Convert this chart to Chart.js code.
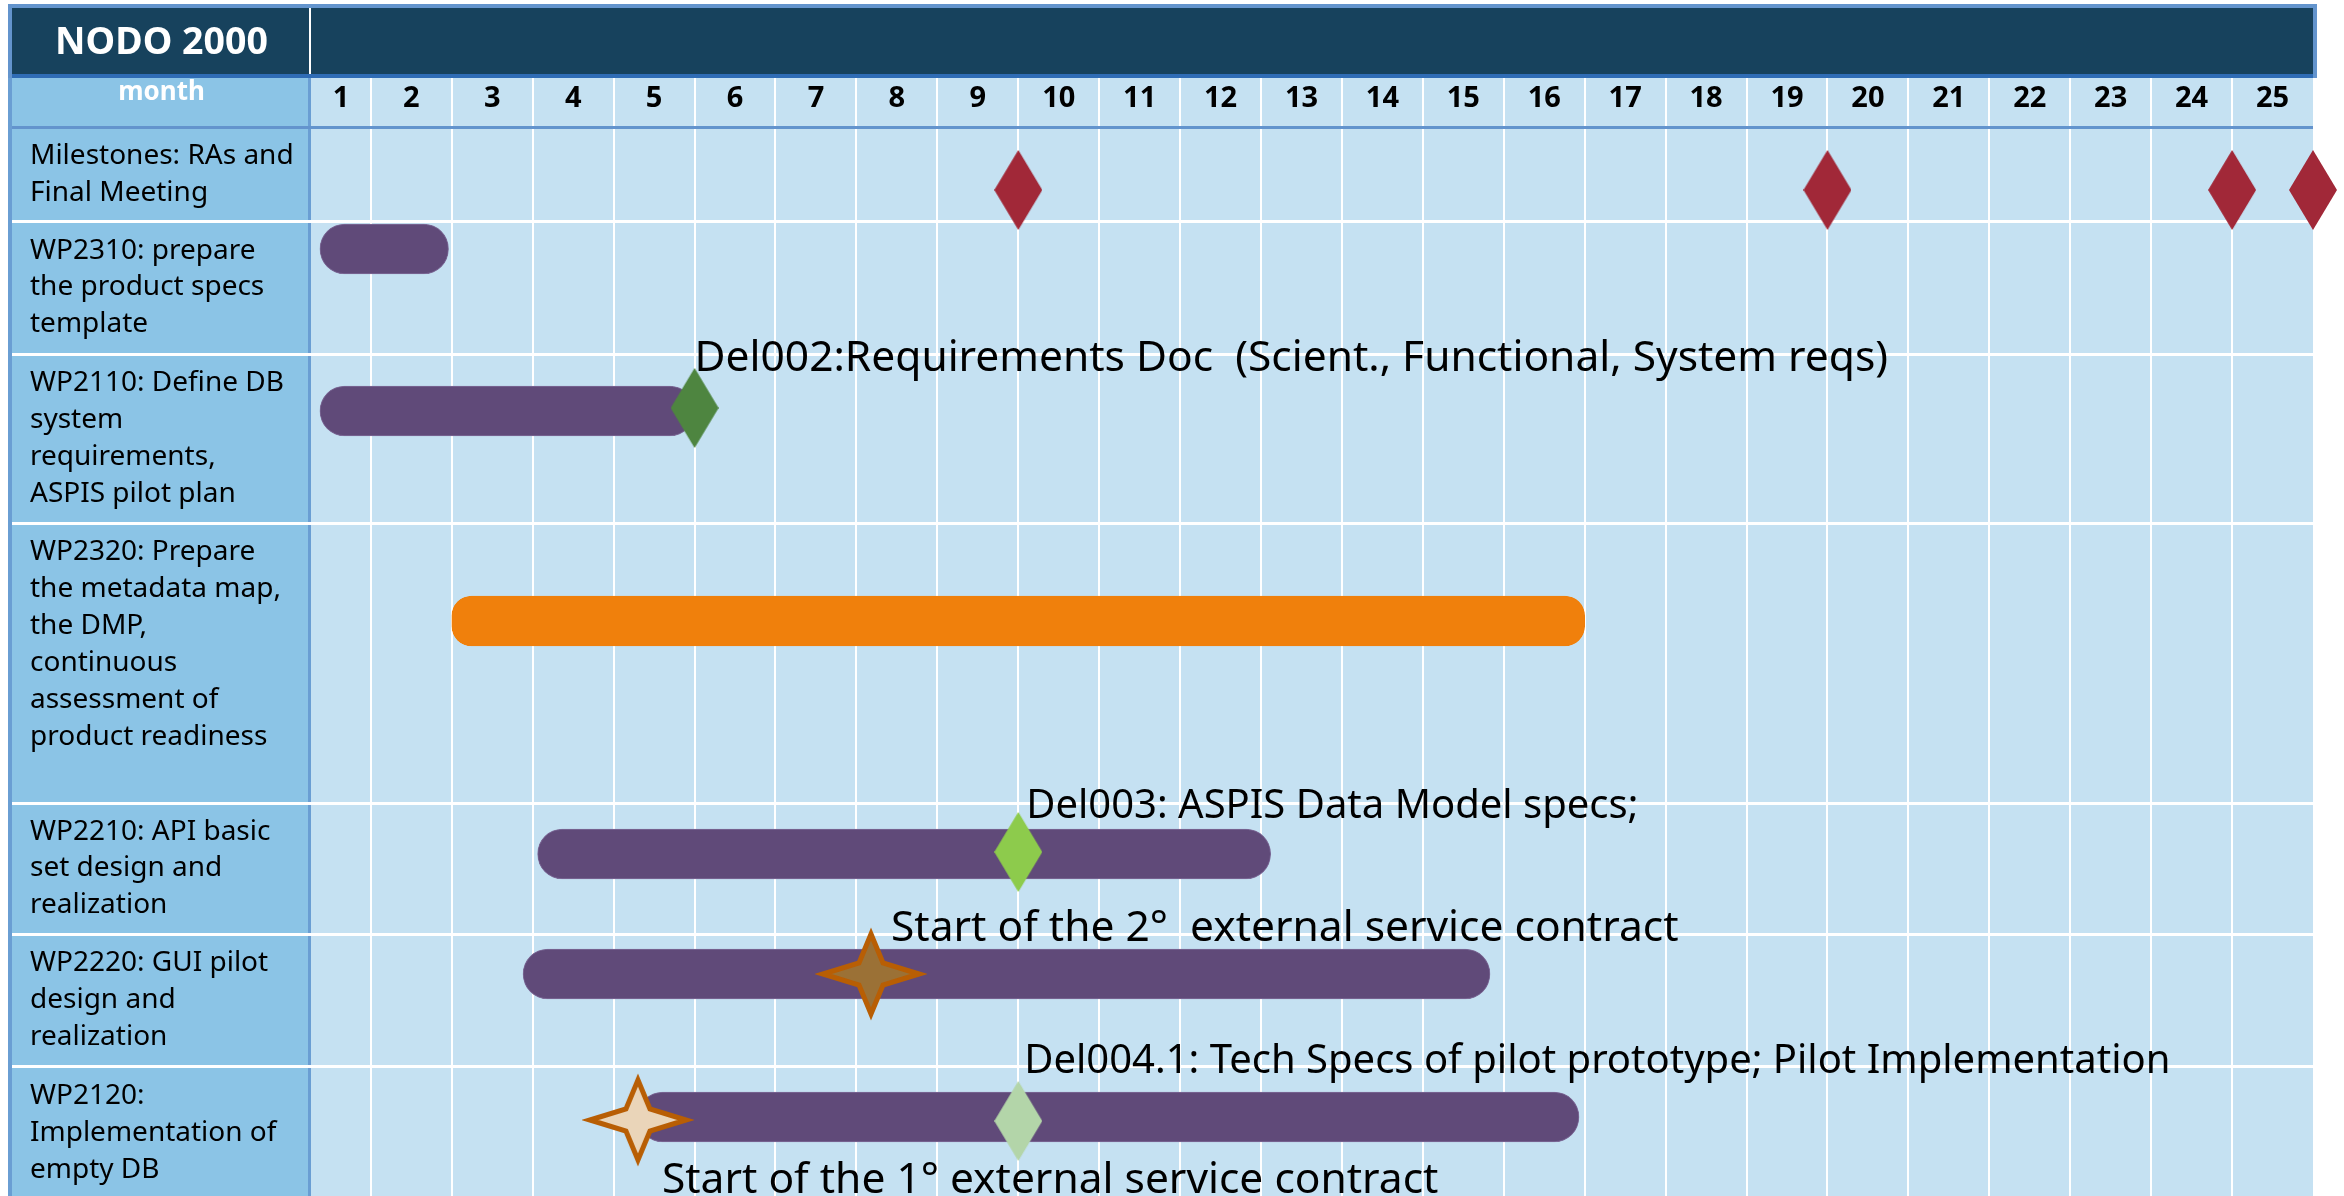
<!DOCTYPE html>
<html>
<head>
<meta charset="utf-8">
<script src="https://cdn.jsdelivr.net/npm/chart.js@4.4.1/dist/chart.umd.min.js"></script>
<style>
  html, body { margin: 0; padding: 0; background: #fff; }
  #wrap { width: 2344px; height: 1196px; }
</style>
</head>
<body>
<div id="wrap"><canvas id="gantt" width="2344" height="1196"></canvas></div>
<script>
// Data
const title = 'NODO 2000';
const monthHeader = 'month';
const months = ['1','2','3','4','5','6','7','8','9','10','11','12','13','14','15','16','17','18','19','20','21','22','23','24','25'];
const tasks = [
    ['Milestones: RAs and', 'Final Meeting'],
    ['WP2310: prepare', 'the product specs', 'template'],
    ['WP2110: Define DB', 'system', 'requirements,', 'ASPIS pilot plan'],
    ['WP2320: Prepare', 'the metadata map,', 'the DMP,', 'continuous', 'assessment of', 'product readiness', ''],
    ['WP2210: API basic', 'set design and', 'realization'],
    ['WP2220: GUI pilot', 'design and', 'realization'],
    ['WP2120:', 'Implementation of', 'empty DB']
];
const barStart = [0.37, 0.37, 2.0, 3.06, 2.88, 4.3];
const barEnd   = [1.96, 5.0, 16.0, 12.12, 14.83, 15.93];
const milestoneMonths = [9, 19, 24, 25];
const deliverables = [
    'Del002:Requirements Doc  (Scient., Functional, System reqs)',
    'Del003: ASPIS Data Model specs;',
    'Del004.1: Tech Specs of pilot prototype; Pilot Implementation'
];
const deliverableMonths = [5, 9, 9];
const contracts = [
    'Start of the 2°  external service contract',
    'Start of the 1° external service contract'
];
const contractMonths = [7.18, 4.3];

// Layout (y units = px below the month row)
const X_MIN = 0.26, X_MAX = 25, Y_MAX = 1067;
const ROW_EDGES = [0, 92, 225, 394, 674, 805, 937, 1071];
const BAR_Y = [120, 282, 492, 725, 845, 988];
const MILESTONE_Y = 61;
const DELIV_Y = [279, 723, 992];
const DELIV_TEXT = [{ dx: 0, y: 242, size: 42.5 }, { dx: 8, y: 689, size: 40 }, { dx: 6, y: 944, size: 40 }];
const CONTRACT_Y = [845, 991];
const CONTRACT_TEXT = [{ dx: 20, y: 812, size: 42.5 }, { dx: 24, y: 1064, size: 42.5 }];

// Colours
const C = {
    band: '#17425D', bandBorder: '#6394CD', bandLine: '#2F6CB5',
    panel: '#8BC4E6', panelEdge: '#6A9ED3', plot: '#C5E1F2',
    purple: '#604A79', orange: '#F0800C',
    red: '#A12838', del: ['#4E8540', '#8DCB4C', '#B3D5A9'],
    starStroke: '#B85E04', starFill: ['#9B7136', '#EAD5B9']
};
const FONT = '"Noto Sans", "Open Sans", sans-serif';

function shapeCanvas(w, h, draw) {
    const c = document.createElement('canvas');
    c.width = w; c.height = h;
    draw(c.getContext('2d'), w, h);
    return c;
}

const diamond = color => shapeCanvas(48, 80, (g, w, h) => {
    g.fillStyle = color;
    g.beginPath();
    g.moveTo(w / 2, 0); g.lineTo(w, h / 2); g.lineTo(w / 2, h); g.lineTo(0, h / 2);
    g.closePath();
    g.fill();
});

const star = fill => shapeCanvas(112, 96, (g, w, h) => {
    const cx = w / 2, cy = h / 2, rx = 48, ry = 40, ix = 12, iy = 11;
    g.beginPath();
    g.moveTo(cx, cy - ry);
    g.lineTo(cx + ix, cy - iy); g.lineTo(cx + rx, cy);
    g.lineTo(cx + ix, cy + iy); g.lineTo(cx, cy + ry);
    g.lineTo(cx - ix, cy + iy); g.lineTo(cx - rx, cy);
    g.lineTo(cx - ix, cy - iy);
    g.closePath();
    g.fillStyle = fill;
    g.fill();
    g.lineWidth = 5;
    g.lineJoin = 'miter';
    g.miterLimit = 10;
    g.strokeStyle = C.starStroke;
    g.stroke();
});

const ganttFrame = {
    id: 'ganttFrame',
    beforeDraw(chart) {
        const { ctx, chartArea: a, scales: { x, y } } = chart;
        const L = 12, R = a.right, bottom = chart.height;
        ctx.save();
        // title band
        ctx.fillStyle = C.bandBorder;
        ctx.fillRect(8, 4, R - 8 + 4, 74);
        ctx.fillStyle = C.band;
        ctx.fillRect(L, 8, R - L, 67);
        ctx.fillStyle = C.bandLine;
        ctx.fillRect(L, 74, R - L, 4);
        ctx.fillStyle = '#fff';
        ctx.fillRect(a.left - 2, 8, 2, 66);
        // month row + plot
        ctx.fillStyle = C.plot;
        ctx.fillRect(a.left, 78, R - a.left, bottom - 78);
        ctx.fillStyle = C.panel;
        ctx.fillRect(L, 78, a.left - L, bottom - 78);
        ctx.fillStyle = C.panelEdge;
        ctx.fillRect(8, 78, 4, bottom - 78);
        ctx.fillRect(a.left - 3, 78, 3, bottom - 78);
        // vertical month boundaries
        ctx.fillStyle = '#fff';
        for (let m = 1; m < X_MAX; m++) {
            const px = Math.round(x.getPixelForValue(m));
            ctx.fillRect(px - 1, 78, 2, bottom - 78);
        }
        // row separators
        ROW_EDGES.slice(1).forEach(v => {
            const py = Math.round(y.getPixelForValue(v));
            ctx.fillRect(L, py - 1, R - L, 3);
        });
        // line below month row
        ctx.fillStyle = C.bandBorder;
        ctx.fillRect(L, a.top - 3, R - L, 3);
        // header texts
        ctx.fillStyle = '#fff';
        ctx.textAlign = 'center';
        ctx.textBaseline = 'middle';
        ctx.font = `bold 37.5px ${FONT}`;
        ctx.fillText(title, (L + a.left) / 2, 43);
        ctx.font = `bold 26px ${FONT}`;
        ctx.fillText(monthHeader, (L + a.left) / 2, 93);
        ctx.restore();
    },
    afterDatasetsDraw(chart) {
        const { ctx, scales: { x, y } } = chart;
        const put = (text, month, t) => {
            ctx.font = `${t.size}px ${FONT}`;
            ctx.fillText(text, x.getPixelForValue(month) + t.dx, y.getPixelForValue(t.y));
        };
        ctx.save();
        ctx.fillStyle = '#000';
        ctx.textAlign = 'left';
        ctx.textBaseline = 'alphabetic';
        deliverables.forEach((t, i) => put(t, deliverableMonths[i], DELIV_TEXT[i]));
        contracts.forEach((t, i) => put(t, contractMonths[i], CONTRACT_TEXT[i]));
        ctx.restore();
    }
};

const rowCenters = tasks.map((_, i) => (ROW_EDGES[i] + ROW_EDGES[i + 1]) / 2);

new Chart(document.getElementById('gantt'), {
    type: 'bar',
    data: {
        datasets: [
            {
                type: 'bar',
                order: 10,
                data: barStart.map((s, i) => ({ x: [s, barEnd[i]], y: BAR_Y[i] })),
                backgroundColor: barStart.map((_, i) => i === 2 ? C.orange : C.purple),
                borderColor: barStart.map((_, i) => i === 2 ? C.orange : '#7C6A97'),
                borderWidth: 1,
                borderRadius: barStart.map((_, i) => i === 2 ? 20 : 25),
                borderSkipped: false,
                barThickness: 50
            },
            {
                type: 'scatter',
                order: 1,
                data: milestoneMonths.map(m => ({ x: m, y: MILESTONE_Y })),
                pointStyle: diamond(C.red),
                pointRadius: 20,
                clip: false
            },
            {
                type: 'scatter',
                order: 1,
                data: deliverableMonths.map((m, i) => ({ x: m, y: DELIV_Y[i] })),
                pointStyle: deliverableMonths.map((_, i) => diamond(C.del[i])),
                pointRadius: 20,
                clip: false
            },
            {
                type: 'scatter',
                order: 0,
                data: contractMonths.map((m, i) => ({ x: m, y: CONTRACT_Y[i] })),
                pointStyle: contractMonths.map((_, i) => star(C.starFill[i])),
                pointRadius: 20,
                clip: false
            }
        ]
    },
    options: {
        indexAxis: 'y',
        responsive: false,
        animation: false,
        layout: { autoPadding: false, padding: { top: 77, left: 30, right: 31, bottom: 0 } },
        plugins: { legend: { display: false }, tooltip: { enabled: false } },
        scales: {
            x: {
                type: 'linear',
                position: 'top',
                offset: false,
                min: X_MIN,
                max: X_MAX,
                grid: { display: false, drawTicks: false, offset: false },
                border: { display: false },
                afterBuildTicks: s => {
                    s.ticks = months.map((m, i) => ({ value: i === 0 ? (X_MIN + 1) / 2 : i + 0.5 }));
                },
                afterFit: s => { s.height = 52; s.paddingLeft = 0; s.paddingRight = 0; },
                ticks: {
                    autoSkip: false,
                    maxRotation: 0,
                    padding: 13,
                    color: '#000',
                    font: { family: FONT, size: 29, weight: 'bold', lineHeight: 1.2 },
                    callback: (v, i) => months[i]
                }
            },
            y: {
                type: 'linear',
                position: 'left',
                reverse: true,
                offset: false,
                min: 0,
                max: Y_MAX,
                grid: { display: false, drawTicks: false, offset: false },
                border: { display: false },
                afterBuildTicks: s => {
                    s.ticks = rowCenters.map(v => ({ value: v }));
                },
                afterFit: s => { s.width = 281; s.paddingTop = 0; s.paddingBottom = 0; },
                ticks: {
                    autoSkip: false,
                    crossAlign: 'far',
                    color: '#000',
                    font: { family: FONT, size: 28, lineHeight: 1.32 },
                    callback: (v, i) => tasks[i]
                }
            }
        }
    },
    plugins: [ganttFrame]
});
</script>
</body>
</html>
